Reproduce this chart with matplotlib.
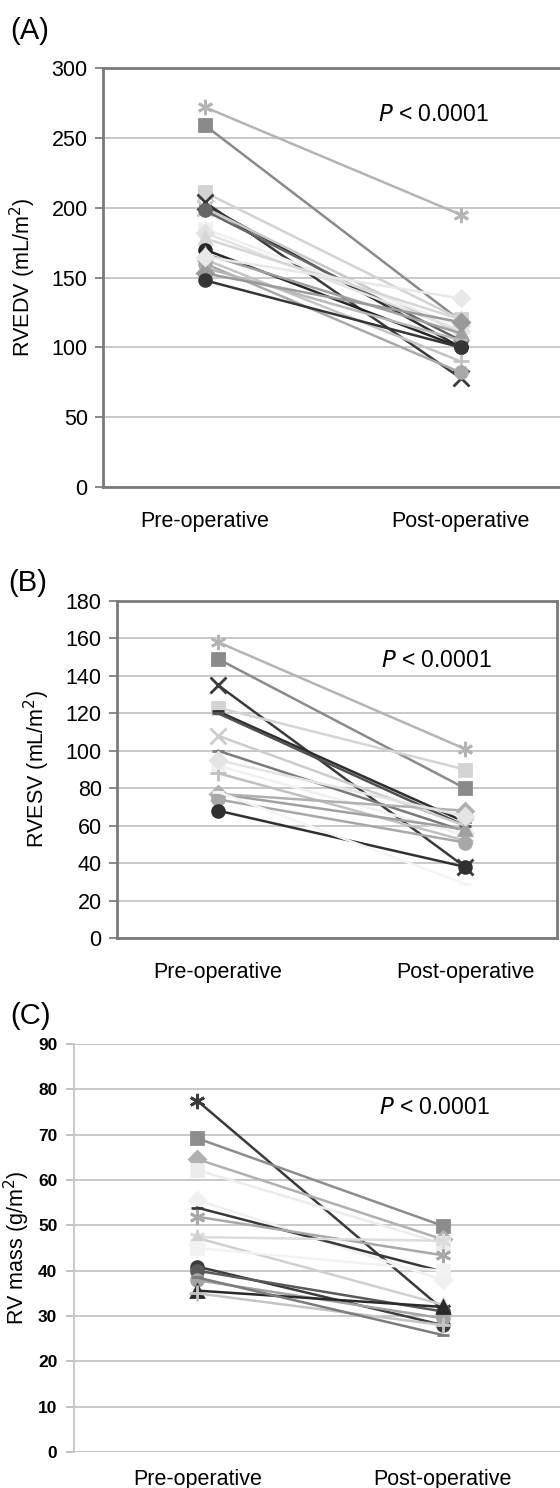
import matplotlib
matplotlib.use("Agg")
import matplotlib.pyplot as plt

plt.rcParams["font.family"] = ["Liberation Sans", "DejaVu Sans"]

categories = ["Pre-operative", "Post-operative"]

# (A) RVEDV, mL/m2
pre_a = [272, 259, 211, 204, 202, 200, 198, 185, 182, 178, 170, 167, 163, 160, 157, 153, 148, 165]
post_a = [195, 119, 120, 78, 100, 110, 105, 115, 112, 120, 100, 110, 90, 82, 105, 118, 100, 135]

# (B) RVESV, mL/m2
pre_b = [158, 149, 135, 123, 121, 120, 108, 100, 92, 88, 77, 77, 74, 68, 78, 95]
post_b = [101, 80, 38, 90, 62, 60, 60, 57, 55, 52, 58, 68, 51, 38, 29, 65]

# (C) RV mass, g/m2
pre_c = [77.5, 69.2, 64.6, 62.2, 55.6, 53.9, 51.9, 47.4, 47.2, 45.0, 40.9, 40.0, 37.9, 35.6, 35.0, 38.5]
post_c = [31.5, 49.9, 46.9, 46.0, 38.0, 39.8, 43.4, 46.6, 32.5, 40.0, 28.0, 31.0, 29.5, 32.0, 28.0, 25.8]

ptext = "$\\it{P}$ < 0.0001"

# series styles (marker, colour), Excel-like greyscale cycle
ast = (6, 2, 0)
style_a = [(ast, "#b4b4b4"), ("s", "#8a8a8a"), ("s", "#d2d2d2"), ("x", "#3c3c3c"),
           ("_", "#2e2e2e"), ("x", "#c8c8c8"), ("o", "#666666"), ("s", "#f0f0f0"),
           ("D", "#e2e2e2"), ("^", "#d6d6d6"), ("o", "#262626"), ("^", "#a0a0a0"),
           ("+", "#c4c4c4"), ("o", "#a8a8a8"), ("_", "#b8b8b8"), ("D", "#9a9a9a"),
           ("o", "#353535"), ("D", "#e8e8e8")]
style_b = [(ast, "#b4b4b4"), ("s", "#8a8a8a"), ("x", "#3a3a3a"), ("s", "#d4d4d4"),
           ("_", "#2e2e2e"), ("_", "#505050"), ("x", "#cccccc"), ("_", "#7a7a7a"),
           ("s", "#f0f0f0"), ("+", "#c0c0c0"), ("^", "#a0a0a0"), ("D", "#b0b0b0"),
           ("o", "#a8a8a8"), ("o", "#303030"), ("_", "#f4f4f4"), ("D", "#e4e4e4")]
style_c = [(ast, "#3a3a3a"), ("s", "#8c8c8c"), ("D", "#b0b0b0"), ("s", "#ececec"),
           ("D", "#f0f0f0"), ("_", "#383838"), (ast, "#a8a8a8"), (ast, "#dcdcdc"),
           ("^", "#d0d0d0"), ("s", "#f2f2f2"), ("o", "#3c3c3c"), ("o", "#5a5a5a"),
           ("o", "#a4a4a4"), ("^", "#2a2a2a"), ("+", "#c4c4c4"), ("_", "#7c7c7c")]

W, H = 560, 1488
fig = plt.figure(figsize=(W / 100, H / 100), dpi=100)


def box(l, r, t, b):
    return [l / W, 1 - b / H, (r - l) / W, (b - t) / H]


def draw(ax, pre, post, styles, ymax, step, xlim, bold=False, xpad=17):
    for p, q, (m, c) in zip(pre, post, styles):
        size = 11 if m in (ast, "x", "+") else 8.5
        ax.plot([0, 1], [p, q], color=c, lw=1.8, marker=m, ms=size, mew=2,
                mfc=c, mec=c, zorder=3)
    ax.set_xlim(*xlim)
    ax.set_ylim(0, ymax)
    ax.set_yticks(range(0, ymax + 1, step))
    ax.set_xticks([0, 1])
    ax.set_xticklabels(categories, fontsize=15.5)
    ax.yaxis.grid(True, color="#c4c4c4", lw=1.3)
    ax.set_axisbelow(True)
    ax.tick_params(axis="x", length=0, pad=xpad)
    if bold:
        ax.tick_params(axis="y", length=6, width=1.3, color="#bdbdbd",
                       labelsize=12.5, pad=6)
        for t in ax.get_yticklabels():
            t.set_fontweight("bold")
        for s in ["top", "right", "bottom"]:
            ax.spines[s].set_visible(False)
        ax.spines["left"].set_color("#c8c8c8")
        ax.spines["left"].set_linewidth(1.5)
    else:
        ax.tick_params(axis="y", length=6, width=1.3, color="#808080",
                       labelsize=15.5, pad=5)
        for s in ax.spines.values():
            s.set_color("#7a7a7a")
            s.set_linewidth(2)


# (A)
ax1 = fig.add_axes(box(103, 563, 68, 487))
draw(ax1, pre_a, post_a, style_a, 300, 50, (-0.398, 1.4))
ax1.set_ylabel("RVEDV (mL/m$^2$)", fontsize=15.5, labelpad=10)
ax1.text(0.677, 267, ptext, fontsize=16.5, va="center", ha="left")
fig.text(10 / W, 1 - 31 / H, "(A)", fontsize=21, va="center", ha="left")

# (B)
ax2 = fig.add_axes(box(117, 557, 601, 938))
draw(ax2, pre_b, post_b, style_b, 180, 20, (-0.41, 1.373))
ax2.set_ylabel("RVESV (mL/m$^2$)", fontsize=15.5, labelpad=10)
ax2.text(0.66, 148, ptext, fontsize=16.5, va="center", ha="left")
fig.text(8 / W, 1 - 583 / H, "(B)", fontsize=21, va="center", ha="left")

# (C)
ax3 = fig.add_axes(box(74, 563, 1044, 1452))
draw(ax3, pre_c, post_c, style_c, 90, 10, (-0.502, 1.49), bold=True, xpad=12)
ax3.set_ylabel("RV mass (g/m$^2$)", fontsize=15.5, labelpad=4)
ax3.text(0.74, 76, ptext, fontsize=16.5, va="center", ha="left")
fig.text(10 / W, 1 - 1016 / H, "(C)", fontsize=21, va="center", ha="left")

fig.savefig("out.png", dpi=100)
